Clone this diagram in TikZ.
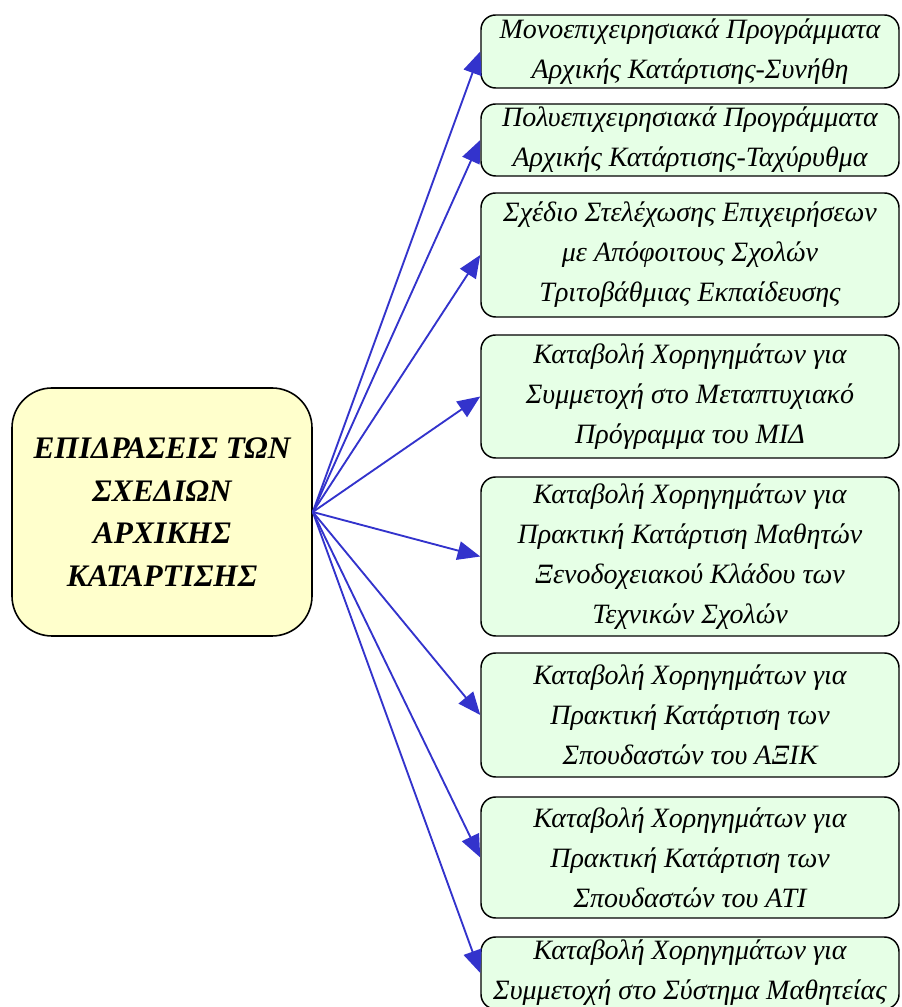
\documentclass[tikz,border=0pt]{standalone}
\usepackage{fontspec}
\setmainfont{Liberation Serif}
\usepackage{tikz}
\usetikzlibrary{arrows.meta, positioning}
\definecolor{srcyellow}{HTML}{FFFFCC}
\definecolor{progreen}{HTML}{E6FFE6}
\definecolor{linkblue}{HTML}{3333CC}

\begin{document}
\begin{tikzpicture}[x=0.75pt, y=0.75pt,
    srcbox/.style={draw=black, line width=1.2pt, fill=srcyellow, rounded corners=30pt,
        minimum width=225pt, minimum height=186pt, inner sep=0pt, align=center,
        font=\fontsize{23.5}{32}\selectfont\bfseries\itshape},
    progbox/.style={draw=black, line width=1.1pt, fill=progreen, rounded corners=11pt,
        minimum width=313.5pt, inner sep=0pt, align=center,
        font=\fontsize{21}{30}\selectfont\itshape},
    link/.style={-{Triangle[length=17pt, width=14pt]}, linkblue, line width=1.4pt}]
    \clip (0,0) rectangle (901,1007);

    % Source box
    \node[srcbox] (src) at (162,495) {ΕΠΙΔΡΑΣΕΙΣ ΤΩΝ\\ΣΧΕΔΙΩΝ\\ΑΡΧΙΚΗΣ\\ΚΑΤΑΡΤΙΣΗΣ};

    % Programme boxes
    \node[progbox, minimum height=54.75pt] (p1) at (690,955.5)
        {Μονοεπιχειρησιακά Προγράμματα\\Αρχικής Κατάρτισης-Συνήθη};
    \node[progbox, minimum height=54pt] (p2) at (690,867)
        {Πολυεπιχειρησιακά Προγράμματα\\Αρχικής Κατάρτισης-Ταχύρυθμα};
    \node[progbox, minimum height=93pt] (p3) at (690,752)
        {Σχέδιο Στελέχωσης Επιχειρήσεων\\με Απόφοιτους Σχολών\\Τριτοβάθμιας Εκπαίδευσης};
    \node[progbox, minimum height=92.25pt] (p4) at (690,610.5)
        {Καταβολή Χορηγημάτων για\\Συμμετοχή στο Μεταπτυχιακό\\Πρόγραμμα του ΜΙΔ};
    \node[progbox, minimum height=119.25pt] (p5) at (690,450.5)
        {Καταβολή Χορηγημάτων για\\Πρακτική Κατάρτιση Μαθητών\\Ξενοδοχειακού Κλάδου των\\Τεχνικών Σχολών};
    \node[progbox, minimum height=93pt] (p6) at (690,292)
        {Καταβολή Χορηγημάτων για\\Πρακτική Κατάρτιση των\\Σπουδαστών του ΑΞΙΚ};
    \node[progbox, minimum height=90.75pt] (p7) at (690,149.5)
        {Καταβολή Χορηγημάτων για\\Πρακτική Κατάρτιση των\\Σπουδαστών του ΑΤΙ};
    \node[progbox, minimum height=54pt] (p8) at (690,34)
        {Καταβολή Χορηγημάτων για\\Συμμετοχή στο Σύστημα Μαθητείας};

    % Arrows
    \foreach \i in {1,...,8}
        \draw[link] (src.east) -- (p\i.west);
\end{tikzpicture}
\end{document}
